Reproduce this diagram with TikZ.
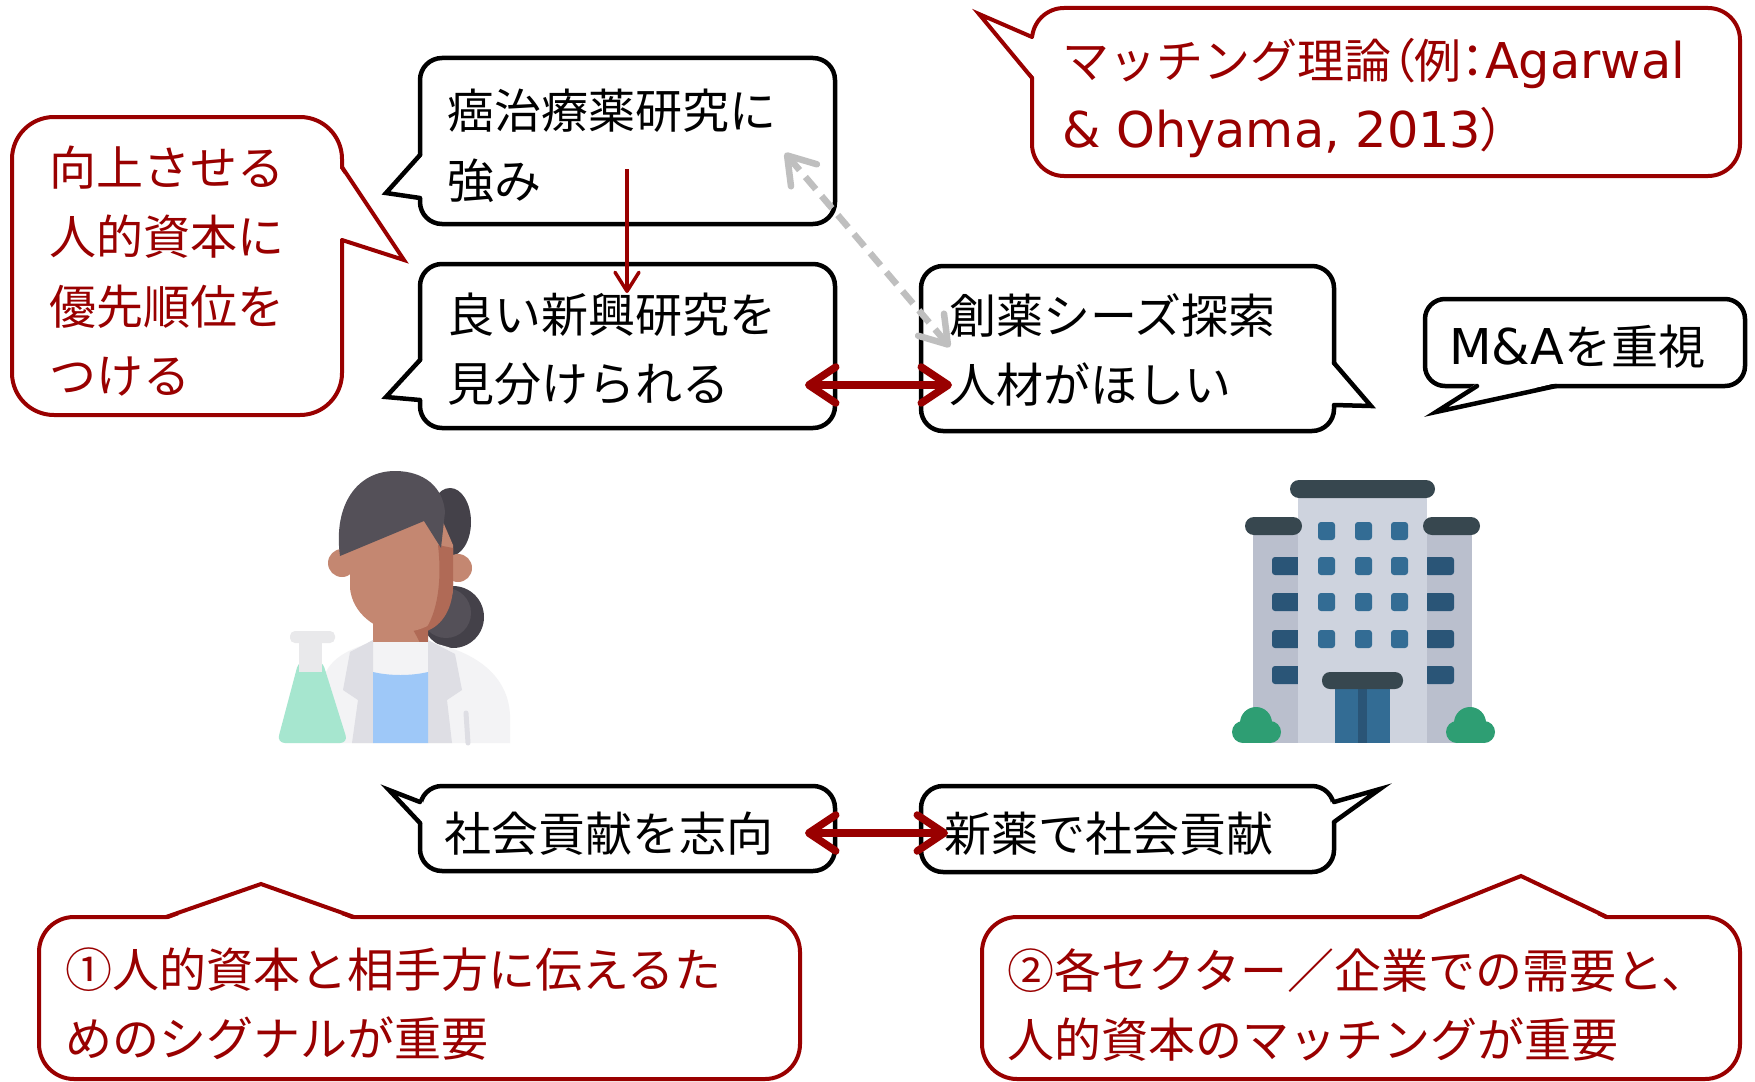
\documentclass[tikz,border=0pt]{standalone}
\usepackage{fontspec}
\setmainfont{Noto Sans CJK JP}
\newfontfamily\latinfont[Scale=1.05]{DejaVu Sans}
\newcommand{\halfw}[1]{{\addfontfeature{RawFeature=+palt}#1}}
\usetikzlibrary{arrows.meta}

\definecolor{darkred}{RGB}{153,0,0}
\definecolor{hintgrey}{RGB}{191,191,191}
% colours of the two icons
\definecolor{hair}{RGB}{84,80,88}
\definecolor{hairback}{RGB}{68,65,73}
\definecolor{skin}{RGB}{196,135,113}
\definecolor{skinshade}{RGB}{176,106,86}
\definecolor{coat}{RGB}{243,243,245}
\definecolor{lapel}{RGB}{222,222,228}
\definecolor{shirt}{RGB}{158,200,248}
\definecolor{glass}{RGB}{233,233,235}
\definecolor{mint}{RGB}{166,230,207}
\definecolor{slate}{RGB}{55,71,79}
\definecolor{tower}{RGB}{206,211,222}
\definecolor{wing}{RGB}{186,191,205}
\definecolor{pane}{RGB}{51,108,148}
\definecolor{panedark}{RGB}{42,85,119}
\definecolor{bush}{RGB}{46,158,115}

\tikzset{
  saybox/.style={draw=black, line width=4.5pt, fill=white, rounded corners=22pt},
  notebox/.style={draw=darkred, line width=4pt, fill=white, rounded corners=35pt},
  saytail/.style={draw=black, line width=4.5pt, line cap=round, line join=miter},
  notetail/.style={draw=darkred, line width=4pt, line cap=round, line join=miter},
  saytext/.style={anchor=west, inner sep=0pt, align=left, font=\fontsize{47pt}{69.5pt}\selectfont},
  notetext/.style={saytext, text=darkred},
  pairarrow/.style={darkred, line width=7.5pt,
    {Straight Barb[length=27pt,width=36pt,round]}-{Straight Barb[length=27pt,width=36pt,round]}},
  hintarrow/.style={hintgrey, line width=6.5pt, dash pattern=on 16pt off 9pt,
    {Straight Barb[length=26pt,width=34pt,round]}-{Straight Barb[length=26pt,width=34pt,round]}},
  leadarrow/.style={darkred, line width=3.5pt, -{Straight Barb[length=19pt,width=24pt,round]}}
}

\begin{document}
\begin{tikzpicture}[x=1pt, y=-1pt]
\useasboundingbox (0,0) rectangle (1755,1081);
\fill[white] (0,0) rectangle (1755,1081);

% researcher side
\draw[saybox] (420,58) rectangle (835,224);
\fill[white] (423,155) -- (386,193) -- (423,198) -- cycle;
\draw[saytail] (420,155) -- (386,193) -- (420,198);
\node[saytext] (cure) at (447,146) {癌治療薬研究に\\強み};

\draw[saybox] (420,264) rectangle (835,428);
\fill[white] (423,360) -- (386,397) -- (423,400) -- cycle;
\draw[saytail] (420,360) -- (386,397) -- (420,400);
\node[saytext] (goodres) at (447,349) {良い新興研究を\\見分けられる};

\draw[saybox] (420,786) rectangle (835,871);
\fill[white] (423,802) -- (389,790) -- (423,823) -- cycle;
\draw[saytail] (420,802) -- (389,790) -- (420,823);
\node[saytext] (aim) at (444,834) {社会貢献を志向};

% company side
\draw[saybox] (921,266) rectangle (1334,431);
\fill[white] (1331,363) -- (1371,406) -- (1331,405) -- cycle;
\draw[saytail] (1334,363) -- (1371,406) -- (1334,405);
\node[saytext] (seeds) at (949,350) {創薬シーズ探索\\人材がほしい};

\draw[saybox, rounded corners=20pt] (1425,299) rectangle (1745,386);
\fill[white] (1477,383) -- (1436,412) -- (1556,383) -- cycle;
\draw[saytail] (1477,386) -- (1436,412) -- (1556,386);
\node[saytext] (mna) at (1449,347) {{\latinfont M\&A}を重視};

\draw[saybox] (921,786) rectangle (1334,872);
\fill[white] (1331,802) -- (1380,789) -- (1331,822) -- cycle;
\draw[saytail] (1334,802) -- (1380,789) -- (1334,822);
\node[saytext] (drug) at (944,834) {新薬で社会貢献};

% red notes
\draw[notebox, rounded corners=42pt] (12,117) rectangle (342,415);
\fill[white] (339,167) -- (404,260) -- (339,240) -- cycle;
\draw[notetail] (342,167) -- (404,260) -- (342,240);
\node[notetext] (prio) at (49,271) {向上させる\\人的資本に\\優先順位を\\つける};

\draw[notebox, rounded corners=32pt] (1032,8) rectangle (1740,176);
\fill[white] (1035,37) -- (979,14) -- (1035,78) -- cycle;
\draw[notetail] (1032,37) -- (979,14) -- (1032,78);
\node[notetext] (match) at (1062,98) {マッチング理論\halfw{（}例\halfw{：}{\latinfont Agarwal}\\{\latinfont \& Ohyama, 2013}\halfw{）}};

\draw[notebox] (39,917) rectangle (800,1079);
\fill[white] (166,920) -- (261,884) -- (354,920) -- cycle;
\draw[notetail] (166,917) -- (261,884) -- (354,917);
\node[notetext] (signal) at (65,1004) {①人的資本と相手方に伝えるた\\めのシグナルが重要};

\draw[notebox] (982,917) rectangle (1740,1079);
\fill[white] (1419,920) -- (1521,876) -- (1607,920) -- cycle;
\draw[notetail] (1419,917) -- (1521,876) -- (1607,917);
\node[notetext] (demand) at (1007,1005) {②各セクター／企業での需要と、\\人的資本のマッチングが重要};

% researcher icon
\fill[hairback] (453,617) circle (31pt);
\fill[hair] (446,613) circle (25pt);
\fill[hairback] (450,522) ellipse (21pt and 34pt);
\fill[skin] (342,563) circle (14pt);
\fill[skin] (458,568) circle (14pt);
\fill[skin] (373,600) rectangle (428,680);
\fill[skinshade] (410,625) .. controls (420,640) and (425,655) .. (428,662) -- (428,620) -- cycle;
\fill[coat] (322,743) -- (322,690) .. controls (322,662) and (345,650) .. (373,642) -- (428,642) .. controls (470,650) and (508,672) .. (510,715) -- (510,743) -- cycle;
\fill[lapel] (373,640) -- (350,652) -- (343,690) -- (358,700) -- (352,743) -- (373,743) -- cycle;
\fill[lapel] (428,640) -- (455,654) -- (462,690) -- (447,700) -- (452,743) -- (428,743) -- cycle;
\draw[lapel, line width=5pt, line cap=round] (466,713) -- (468,743);
\fill[shirt] (373,672) .. controls (390,676) and (411,676) .. (428,672) -- (428,743) -- (373,743) -- cycle;
\fill[skin] (350,535) -- (350,588) .. controls (352,612) and (375,632) .. (402,632) .. controls (430,632) and (452,612) .. (453,588) -- (453,545) -- (440,515) -- cycle;
\fill[skinshade] (438,545) .. controls (442,580) and (438,612) .. (424,632) .. controls (444,626) and (453,606) .. (453,585) -- (453,548) -- cycle;
\fill[hair] (340,556) .. controls (333,505) and (357,471) .. (395,471) .. controls (424,471) and (443,487) .. (445,512) -- (441,548) -- (424,521) -- cycle;
% flask
\fill[mint, rounded corners=8pt] (299,660) -- (322,660) -- (348,743) -- (277,743) -- cycle;
\fill[glass] (299,640) rectangle (322,672);
\fill[glass, rounded corners=5pt] (290,631) rectangle (335,643);

% company icon
\fill[wing] (1253,533) rectangle (1472,743);
\foreach \y in {557,593,630,666} {
  \fill[panedark, rounded corners=3pt] (1272,\y) rectangle ++(30,18);
  \fill[panedark, rounded corners=3pt] (1425,\y) rectangle ++(29,18);
}
\fill[tower] (1298,498) rectangle (1427,743);
\fill[slate, rounded corners=9pt] (1245,517) rectangle (1302,535);
\fill[slate, rounded corners=9pt] (1423,517) rectangle (1480,535);
\fill[slate, rounded corners=9pt] (1290,480) rectangle (1435,498);
\foreach \x in {1318,1355,1391}
  \foreach \y in {522,557,593,630}
    \fill[pane, rounded corners=3pt] (\x,\y) rectangle ++(17,18);
\fill[pane] (1335,689) rectangle (1390,743);
\fill[panedark] (1358,689) rectangle (1367,743);
\fill[slate, rounded corners=8pt] (1322,672) rectangle (1403,689);
\foreach \x in {1256,1470} {
  \fill[bush] (\x,723) circle (16pt);
  \fill[bush] (\x-13,732) circle (11pt);
  \fill[bush] (\x+14,732) circle (11pt);
  \fill[bush] (\x-13,730) rectangle (\x+14,743);
}

% connectors
\coordinate (cure-foot) at (627,169);
\coordinate (goodres-top) at (627,293);
\coordinate (cure-corner) at (785,153);
\coordinate (seeds-corner) at (950,347);
\coordinate (goodres-end) at (805,385);
\coordinate (seeds-start) at (952,385);
\coordinate (aim-end) at (805,833);
\coordinate (drug-start) at (948,833);

\draw[leadarrow] (cure-foot) -- (goodres-top);
\draw[hintarrow] (cure-corner) -- (seeds-corner);
\draw[pairarrow] (goodres-end) -- (seeds-start);
\draw[pairarrow] (aim-end) -- (drug-start);
\end{tikzpicture}
\end{document}
